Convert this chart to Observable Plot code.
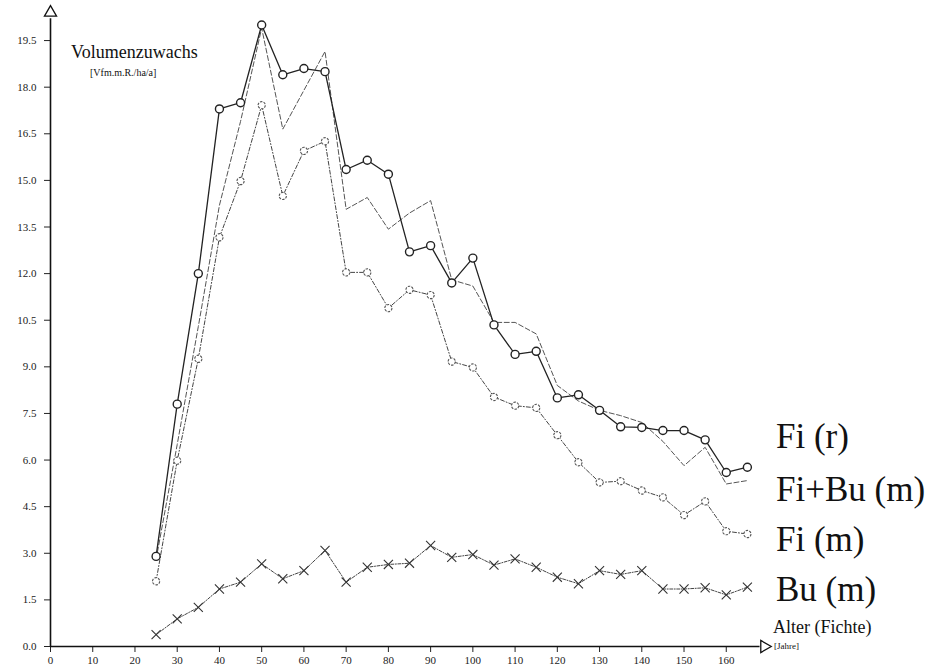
<!DOCTYPE html>
<html>
<head>
<meta charset="utf-8">
<script src="https://cdn.jsdelivr.net/npm/d3@7"></script>
<script src="https://cdn.jsdelivr.net/npm/@observablehq/plot@0.6"></script>
<style>
  html, body { margin: 0; padding: 0; background: #fff; }
  #wrap { position: relative; width: 937px; height: 672px; font-family: "Liberation Serif", "Times New Roman", serif; color: #111; }
  #wrap .lbl { position: absolute; white-space: nowrap; line-height: 1; font-family: "Liberation Serif", "Times New Roman", serif; }
</style>
</head>
<body>
<div id="wrap"><div id="chart"></div></div>
<script>
// ---- data ----
const ages = [25, 30, 35, 40, 45, 50, 55, 60, 65, 70, 75, 80, 85, 90, 95, 100, 105, 110, 115, 120, 125, 130, 135, 140, 145, 150, 155, 160, 165];
const fiR   = [2.9, 7.8, 12.0, 17.3, 17.5, 20.0, 18.4, 18.6, 18.5, 15.35, 15.65, 15.2, 12.7, 12.9, 11.7, 12.5, 10.35, 9.4, 9.5, 8.0, 8.1, 7.6, 7.07, 7.05, 6.95, 6.95, 6.65, 5.6, 5.77];
const fiBuM = [2.8, 6.5, 10.3, 14.2, 16.9, 19.9, 16.65, 17.9, 19.15, 14.07, 14.45, 13.43, 13.95, 14.35, 11.8, 11.6, 10.43, 10.43, 10.06, 8.4, 7.9, 7.6, 7.43, 7.21, 6.6, 5.82, 6.41, 5.23, 5.34];
const fiM   = [2.1, 5.98, 9.26, 13.17, 14.98, 17.42, 14.5, 15.95, 16.26, 12.04, 12.04, 10.89, 11.48, 11.31, 9.17, 8.98, 8.03, 7.75, 7.68, 6.8, 5.93, 5.28, 5.32, 5.02, 4.8, 4.23, 4.67, 3.71, 3.62];
const buM   = [0.38, 0.89, 1.26, 1.85, 2.07, 2.66, 2.18, 2.44, 3.09, 2.07, 2.55, 2.64, 2.68, 3.25, 2.87, 2.96, 2.62, 2.82, 2.55, 2.23, 2.02, 2.44, 2.32, 2.44, 1.85, 1.85, 1.89, 1.66, 1.91];
const xTicks = [0, 10, 20, 30, 40, 50, 60, 70, 80, 90, 100, 110, 120, 130, 140, 150, 160];
const yTicks = [0, 1.5, 3, 4.5, 6, 7.5, 9, 10.5, 12, 13.5, 15, 16.5, 18, 19.5];
const seriesNames = ["Fi (r)", "Fi+Bu (m)", "Fi (m)", "Bu (m)"];
const titleText = "Volumenzuwachs";
const unitText = "[Vfm.m.R./ha/a]";
const xTitle = "Alter (Fichte)";
const xUnit = "[Jahre]";
const axisEnd = {x: 169, y: 20.4};

const rows = (vals) => ages.map((a, i) => ({age: a, v: vals[i]}));
const dR = rows(fiR), dFB = rows(fiBuM), dFM = rows(fiM), dBu = rows(buM);

const serif = "Liberation Serif";
const serifCss = "'Liberation Serif', 'Times New Roman', serif";

const chart = Plot.plot({
  width: 937,
  height: 672,
  marginLeft: 50,
  marginRight: 169,
  marginTop: 9,
  marginBottom: 26,
  x: {domain: [0, 170]},
  y: {domain: [0, 20.5]},
  style: {background: "#fff", color: "#222", overflow: "visible"},
  marks: [
    Plot.axisX({ticks: xTicks, tickSize: 6, tickPadding: 4, fontSize: 11, label: null, stroke: "#222", fontFamily: serif}),
    Plot.axisY({ticks: yTicks, tickFormat: d => d.toFixed(1), tickSize: 6, tickPadding: 8, fontSize: 11, label: null, stroke: "#222", fontFamily: serif}),
    // axis lines with arrowheads
    Plot.ruleY([0], {x1: 0, x2: axisEnd.x - 1, stroke: "#111", strokeWidth: 1.6}),
    Plot.ruleX([0], {y1: 0, y2: axisEnd.y - 0.2, stroke: "#111", strokeWidth: 1.6}),
    Plot.dot([{x: axisEnd.x, y: 0}], {x: "x", y: "y", symbol: "triangle", r: 4.5, rotate: 90, fill: "#fff", stroke: "#111", strokeWidth: 1.3}),
    Plot.dot([{x: 0, y: axisEnd.y}], {x: "x", y: "y", symbol: "triangle", r: 4.5, fill: "#fff", stroke: "#111", strokeWidth: 1.3}),
    // series
    Plot.line(dFB, {x: "age", y: "v", stroke: "#555", strokeWidth: 1, strokeDasharray: "5,2.5"}),
    Plot.line(dFM, {x: "age", y: "v", stroke: "#444", strokeWidth: 1, strokeDasharray: "4,2,1,2"}),
    Plot.dot(dFM, {x: "age", y: "v", r: 3.6, fill: "#fff", stroke: "#555", strokeWidth: 1.1, strokeDasharray: "2.5,1.2"}),
    Plot.line(dBu, {x: "age", y: "v", stroke: "#444", strokeWidth: 1, strokeDasharray: "3,1.5,1,1.5"}),
    Plot.dot(dBu, {x: "age", y: "v", symbol: "times", r: 4.2, stroke: "#333", strokeWidth: 1.1}),
    Plot.line(dR, {x: "age", y: "v", stroke: "#222", strokeWidth: 1.3}),
    Plot.dot(dR, {x: "age", y: "v", r: 4, fill: "#fff", stroke: "#222", strokeWidth: 1.4})
  ]
});
chart.querySelectorAll("text").forEach(el => {
  el.setAttribute("font-family", serif);
  el.style.fontFamily = serifCss;
});
document.getElementById("chart").append(chart);

// text labels placed over the chart (baseline ≈ top + 0.8375 × font size)
const wrap = document.getElementById("wrap");
function addLabel(text, left, baseline, size) {
  const d = document.createElement("div");
  d.className = "lbl";
  d.textContent = text;
  d.style.left = left + "px";
  d.style.top = (baseline - 0.8375 * size) + "px";
  d.style.fontSize = size + "px";
  wrap.append(d);
}
addLabel(titleText, 71, 58, 18);
addLabel(unitText, 90, 76, 10);
addLabel(xTitle, 773, 633, 18);
addLabel(xUnit, 774, 650, 9);
addLabel(seriesNames[0], 776, 448, 35);
addLabel(seriesNames[1], 776, 501, 35);
addLabel(seriesNames[2], 776, 551, 35);
addLabel(seriesNames[3], 776, 601, 35);
</script>
</body>
</html>
